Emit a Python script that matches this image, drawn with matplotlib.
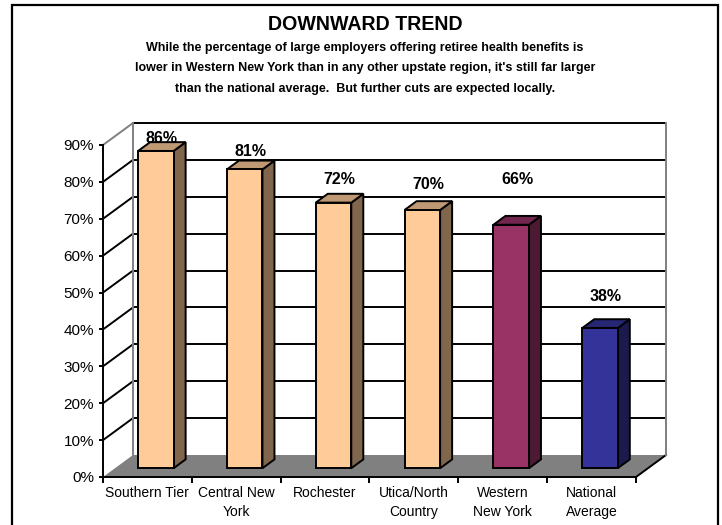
import matplotlib
matplotlib.use('Agg')
import matplotlib.pyplot as plt
from matplotlib.patches import Polygon, Rectangle

plt.rcParams['font.family'] = ['Liberation Sans', 'DejaVu Sans']

# data
regions = ['Southern Tier', 'Central New\nYork', 'Rochester', 'Utica/North\nCountry',
           'Western\nNew York', 'National\nAverage']
share = [86, 81, 72, 70, 66, 38]
y_ticks = [0, 10, 20, 30, 40, 50, 60, 70, 80, 90]
y_labels = ['%d%%' % t for t in y_ticks]

# face colours (front, side, top)
peach = ('#FFCC99', '#80664D', '#BF9973')
plum = ('#993366', '#4D1A33', '#73264D')
navy = ('#333399', '#1A1A4D', '#262673')
bar_colors = [peach, peach, peach, peach, plum, navy]
# how far each value label sits above its bar (points)
label_lift = [5.8, 10, 13.7, 15, 29.5, 19.4]

W, H = 722, 525
fig = plt.figure(figsize=(W / 100, H / 100), dpi=100)
ax = fig.add_axes([103 / W, 48 / H, 533 / W, 332 / H])
ax.set_xlim(0, 6)
ax.set_ylim(0, 90)

# 3d depth of the floor in data units
dx = 30 / (533 / 6)
dy = 22 / (332 / 90)
top = 90

# floor
ax.add_patch(Polygon([(0, 0), (6, 0), (6 + dx, dy), (dx, dy)], closed=True,
                     facecolor='#808080', edgecolor='none', zorder=1, clip_on=False))
ax.plot([6, 6 + dx], [0, dy], color='black', lw=1.4, zorder=2, clip_on=False)

# side wall + back wall gridlines
for t in y_ticks[1:]:
    c = '#808080' if t == top else 'black'
    ax.plot([0, dx], [t, t + dy], color=c, lw=1.4, zorder=2, clip_on=False,
            solid_capstyle='butt')
    ax.plot([dx, 6 + dx], [t + dy, t + dy], color='black', lw=1.4, zorder=2,
            clip_on=False, solid_capstyle='butt')
ax.plot([dx, dx], [dy, top + dy], color='#808080', lw=1.4, zorder=2, clip_on=False)
ax.plot([6 + dx, 6 + dx], [dy, top + dy], color='#808080', lw=1.4, zorder=2, clip_on=False)

# bars
bw = 0.4
bc = 0.46
fd, bd = 0.4, 0.8
for i, (v, cols) in enumerate(zip(share, bar_colors)):
    xl = i + bc - bw / 2 + fd * dx
    xr = xl + bw
    y0 = fd * dy
    ox = (bd - fd) * dx
    oy = (bd - fd) * dy
    front = [(xl, y0), (xr, y0), (xr, y0 + v), (xl, y0 + v)]
    side = [(xr, y0), (xr + ox, y0 + oy), (xr + ox, y0 + oy + v), (xr, y0 + v)]
    lid = [(xl, y0 + v), (xr, y0 + v), (xr + ox, y0 + oy + v), (xl + ox, y0 + oy + v)]
    for pts, col in ((side, cols[1]), (lid, cols[2]), (front, cols[0])):
        ax.add_patch(Polygon(pts, closed=True, facecolor=col, edgecolor='black',
                             lw=1.4, joinstyle='miter', zorder=3, clip_on=False))
    ax.annotate('%d%%' % v, (xl + bw / 2 + 0.5 * ox, y0 + v), xytext=(0, label_lift[i]),
                textcoords='offset points', ha='center', va='baseline',
                fontsize=11.5, fontweight='bold', zorder=5, annotation_clip=False)

# axes
for s in ['top', 'right']:
    ax.spines[s].set_visible(False)
for s in ['left', 'bottom']:
    ax.spines[s].set_linewidth(1.4)
    ax.spines[s].set_zorder(4)
ax.set_facecolor('none')
ax.set_yticks(y_ticks, y_labels)
ax.tick_params(axis='y', length=3, width=1.4, pad=3.5, labelsize=11)
ax.set_xticks(range(7), [''] * 7)
ax.set_xticks([i + 0.5 for i in range(6)], regions, minor=True)
ax.tick_params(axis='x', which='major', length=4, width=1.4)
ax.tick_params(axis='x', which='minor', length=0, pad=6.5, labelsize=10)
for lab in ax.get_xticklabels(minor=True):
    lab.set_linespacing(1.45)

# titles
fig.text(365 / W, 1 - 30 / H, 'DOWNWARD TREND', ha='center', va='baseline',
         fontsize=14.1, fontweight='bold')
sub = ["While the percentage of large employers offering retiree health benefits is",
       "lower in Western New York than in any other upstate region, it's still far larger",
       "than the national average.  But further cuts are expected locally."]
for k, line in enumerate(sub):
    fig.text(365 / W, 1 - (51 + 20.5 * k) / H, line, ha='center', va='baseline',
             fontsize=9, fontweight='bold')

# outer frame
fig.patches.append(Rectangle((12 / W, -0.05), 706 / W, 1 - 5 / H + 0.05,
                             transform=fig.transFigure, fill=False,
                             edgecolor='black', lw=1.6))

fig.savefig('out.png', dpi=100)
